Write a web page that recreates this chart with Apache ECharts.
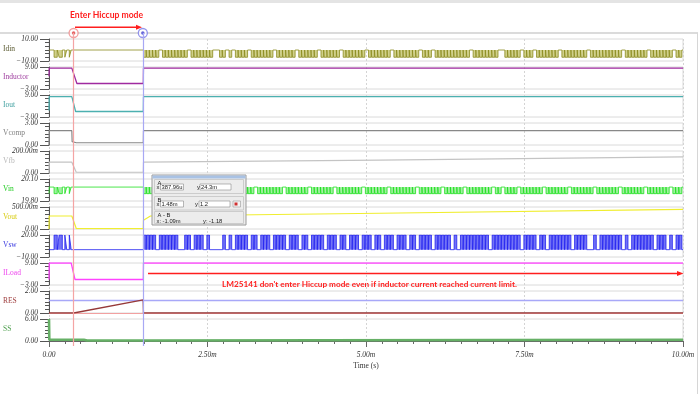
<!DOCTYPE html>
<html><head><meta charset="utf-8">
<script src="https://cdn.jsdelivr.net/npm/echarts@6/dist/echarts.min.js"></script>
<style>html,body{margin:0;padding:0;background:#fff}#c{width:700px;height:394px}</style>
</head><body><div id="c"></div>
<script>
// ---------------- data ----------------
const names = ['Idin','Inductor','Iout','Vcomp','Vfb','Vin','Vout','Vsw','ILoad','RES','SS'];
const yMin = [-10,-3,-3,0,0,19.8,0,-10,-3,0,0];
const yMax = [10,9,9,3,0.2,20.1,0.5,20,9,2,6];
const yTopLabels = ['10.00','9.00','9.00','3.00','200.00m','20.10','500.00m','20.00','9.00','2.00','6.00'];
const yBottomLabels = ['\u221210.00','\u22123.00','\u22123.00','0.00','0.00','19.80','0.00','\u221210.00','\u22123.00','0.00','0.00'];
const xTickLabels = ['0.00','2.50m','5.00m','7.50m','10.00m'];

// time in ms
const inductor = [[0,4],[0.004,8.4],[0.36,8.4],[0.44,0],[1.487,0],[1.49,8.4],[10,8.4]];
const iout     = [[0,0.5],[0.004,8.1],[0.36,8.1],[0.42,0],[1.487,0],[1.49,8.1],[10,8.1]];
const vcomp    = [[0,0],[0.004,1.95],[0.36,1.95],[0.365,0.45],[0.43,0.31],[1.487,0.31],[1.49,1.95],[10,1.95]];
const vfb      = [[0,0],[0.004,0.098],[0.36,0.098],[0.43,0.007],[1.487,0.007],[1.49,0.098],[5.22,0.117],[10,0.146]];
const vout     = [[0,0],[0.004,0.295],[0.36,0.295],[0.43,0.01],[1.487,0.01],[1.49,0.2],[1.6,0.295],[5.22,0.358],[10,0.448]];
const iload    = [[0,0],[0.004,9],[0.35,9],[0.41,0],[1.487,0],[1.49,9],[10,9]];
const res      = [[0,0],[0.39,0],[1.485,1.2],[1.49,0],[10,0]];
const ss       = [[0,6],[0.005,0.35],[0.55,0.35],[0.6,0.12],[1.487,0.12],[1.49,0.35],[10,0.35]];

const cursorA = 0.38796, cursorB = 1.48;
const cursorAy = 0.0243, cursorBy = 1.2;

// switching activity
const earlyPulses = [[0.08,0.13],[0.16,0.21],[0.25,0.28],[0.32,0.35]];
const denseStart = 1.49, denseSlot = 0.05, denseCount = 170, pulseOn = 0.042;
const idinGaps = [5,14,22,23,26,28,33,41,48,55,62,70,78,87,91,103,112,113,119,123,131,140,151,159,167];
const vinGaps  = [6,13,20,27,35,44,52,60,69,77,86,94,101,110,113,118,126,134,142,150,158,166];
const vswGaps  = [4,11,12,15,19,21,22,23,24,26,28,33,36,40,45,49,52,57,61,64,68,72,75,79,83,86,91,97,99,109,119,124,127,135,140,141,143,151,153,161,165,167];
const idinLevels = [0,-6.6];
const vinLevels  = [19.99,19.9,19.9];   // base, dip, start
const vswLevels  = [0,20];

// ---------------- build ----------------
function pulses(gaps){
  const p = earlyPulses.slice();
  for (let k=0;k<denseCount;k++){
    if (gaps.indexOf(k) >= 0) continue;
    const a = denseStart + k*denseSlot;
    p.push([a, a+pulseOn]);
  }
  return p;
}
function train(base, peak, gaps, start){
  const d = [[0, start===undefined?base:start],[0.004, base]];
  pulses(gaps).forEach(([a,b])=>{ d.push([a,base],[a,peak],[b,peak],[b,base]); });
  d.push([10, base]);
  return d;
}
const idin = train(idinLevels[0], idinLevels[1], idinGaps);
const vin  = train(vinLevels[0], vinLevels[1], vinGaps, vinLevels[2]);
const vsw  = train(vswLevels[0], vswLevels[1], vswGaps);

const dataSets = [idin, inductor, iout, vcomp, vfb, vin, vout, vsw, iload, res, ss];
const lineColors = ['#8c8c1e','#a02aa0','#4cb0b0','#888888','#c4c4c4','#1ee01e','#f0ee30','#2222f0','#ff44ff','#963838','#66b066'];
const nameColors = ['#5a5a30','#a040a0','#40a0a0','#808080','#b8b8b8','#22cc22','#d8cc10','#3a3ae0','#ee44ee','#a04040','#50a050'];
const lineWidths = [0.8,1.3,1.3,1.2,1.2,0.8,1.2,0.8,1.3,1.3,2.6];
const areas = {0:{color:'#bcbc5a',opacity:0.7}, 5:{color:'#90ee90',opacity:0.85,origin:vinLevels[0]}, 7:{color:'#5a5af4',opacity:0.85}};

// ---------------- layout ----------------
const L = 49, R = 17, T0 = 39, STEP = 28, H = 22;
const grids=[], xAxes=[], yAxes=[], series=[], graphics=[];
const serif = 'Liberation Serif';

for (let i=0;i<11;i++){
  const top = T0 + STEP*i;
  grids.push({left:L, right:R, top:top, height:H, show:true, borderColor:'#dadada', borderWidth:1, backgroundColor:'transparent'});
  const last = i===10;
  xAxes.push({gridIndex:i, type:'value', min:0, max:10, interval:2.5, show:last,
    axisLine:{show:true, onZero:false, lineStyle:{color:'#666'}},
    axisTick:{show:true, length:6, lineStyle:{color:'#666'}},
    minorTick:{show:true, splitNumber:10, length:3, lineStyle:{color:'#666'}},
    splitLine:{show:false},
    axisLabel:{show:true, margin:10, fontFamily:serif, fontStyle:'italic', fontSize:7.5, color:'#333',
      formatter: v => xTickLabels[Math.round(v/2.5)]},
    name: last ? 'Time (s)' : '', nameLocation:'middle', nameGap:21,
    nameTextStyle:{fontFamily:serif, fontSize:7.5, color:'#333'}});
  const mn=yMin[i], mx=yMax[i];
  const ticks=[]; for(let k=0;k<=6;k++) ticks.push(mn+(mx-mn)*k/6);
  yAxes.push({gridIndex:i, type:'value', min:mn, max:mx, position:'left',
    axisLine:{show:true, lineStyle:{color:'#555'}},
    axisTick:{show:true, length:4, customValues:ticks, lineStyle:{color:'#555'}},
    axisLabel:{show:false}, splitLine:{show:false}});
  yAxes.push({gridIndex:i, type:'value', min:mn, max:mx, position:'left',
    axisLine:{show:false},
    axisTick:{show:true, length:9, customValues:[mn,mx], lineStyle:{color:'#555'}},
    axisLabel:{show:true, customValues:[mn,mx], margin:11, fontFamily:serif, fontStyle:'italic', fontSize:7.5, color:'#333',
      formatter: v => (Math.abs(v-mx) < Math.abs(v-mn)) ? yTopLabels[i] : yBottomLabels[i]},
    splitLine:{show:false}});
  const s = {type:'line', xAxisIndex:i, yAxisIndex:2*i, data:dataSets[i], showSymbol:false, symbol:'none',
    sampling:'none', animation:false, z:3,
    lineStyle:{color:lineColors[i], width:lineWidths[i]}};
  if (areas[i]) s.areaStyle = areas[i];
  if (i===9){
    s.markLine = {silent:true, symbol:'none', animation:false, label:{show:false}, z:2,
      data:[{yAxis:cursorAy, lineStyle:{color:'#f2a0a0', width:1, type:'solid'}},
            {yAxis:cursorBy, lineStyle:{color:'#a8a8f8', width:1.3, type:'solid'}}]};
  }
  series.push(s);
  graphics.push({type:'text', left:3, top:top+10-3.5, style:{text:names[i], fill:nameColors[i], font:'7.5px "Liberation Serif"'}});
}

// background grid for dotted vertical lines
grids.push({left:L, right:R, top:39, height:307, show:false});
xAxes.push({gridIndex:11, type:'value', min:0, max:10, interval:2.5, axisLine:{show:false}, axisTick:{show:false}, axisLabel:{show:false},
  splitLine:{show:true, lineStyle:{color:'#d4d4d4', type:[2,2], width:1}}});
yAxes.push({gridIndex:11, type:'value', min:0, max:1, show:false});
series.push({type:'line', xAxisIndex:11, yAxisIndex:22, data:[], silent:true});

// cursor grid
grids.push({left:L, right:R, top:33, height:313, show:false});
xAxes.push({gridIndex:12, type:'value', min:0, max:10, show:false});
yAxes.push({gridIndex:12, type:'value', min:0, max:1, show:false});
series.push({type:'scatter', xAxisIndex:12, yAxisIndex:23, clip:false, animation:false, z:1, symbol:'circle', symbolSize:9,
  data:[{value:[cursorA,1], itemStyle:{color:'#fff', borderColor:'#f08888', borderWidth:1.3}},
        {value:[cursorB,1], itemStyle:{color:'#fff', borderColor:'#7a7ae8', borderWidth:1.3}}],
  markLine:{silent:true, symbol:'none', animation:false, label:{show:false},
    data:[{xAxis:cursorA, lineStyle:{color:'#f4a4a4', width:1.2, type:'solid'}},
          {xAxis:cursorB, lineStyle:{color:'#a8a8f4', width:1.2, type:'solid'}}]}});
series.push({type:'scatter', xAxisIndex:12, yAxisIndex:23, clip:false, animation:false, z:4, symbol:'circle', symbolSize:3.5,
  data:[{value:[cursorA,1], itemStyle:{color:'#e04040'}},{value:[cursorB,1], itemStyle:{color:'#4040d0'}}]});

// frame decorations
graphics.push({type:'rect', left:0, top:0, shape:{width:700,height:3}, style:{fill:'#e4e4e4'}, z:-1});
graphics.push({type:'line', shape:{x1:0,y1:33,x2:698,y2:33}, style:{stroke:'#cfcfcf', lineWidth:1.5}, z:-1});
graphics.push({type:'line', shape:{x1:697.5,y1:33,x2:697.5,y2:394}, style:{stroke:'#d6d6d6', lineWidth:1}, z:-1});

// annotations
graphics.push({type:'text', left:70, top:10.5, style:{text:'Enter Hiccup mode', fill:'#ff1e1e', font:'bold 8.6px Lato'}});
graphics.push({type:'line', shape:{x1:75,y1:27.3,x2:138,y2:27.3}, style:{stroke:'#ff1e1e', lineWidth:1.5}});
graphics.push({type:'polygon', shape:{points:[[136,24.8],[142,27.3],[136,29.8]]}, style:{fill:'#ff1e1e'}});
graphics.push({type:'line', shape:{x1:148,y1:273.5,x2:679,y2:273.5}, style:{stroke:'#ff1e1e', lineWidth:1.6}});
graphics.push({type:'polygon', shape:{points:[[677,271],[683.5,273.5],[677,276]]}, style:{fill:'#ff1e1e'}});
graphics.push({type:'text', left:222, top:280, style:{text:"LM25141 don't enter Hiccup mode even if inductor current reached current limit.", fill:'#ff1e1e', font:'bold 8.2px Lato'}});

// cursor dialog (absolute coordinates, drawn above everything)
const DX = 152, DY = 175, DZ = 100;
const f = '5.8px "Liberation Sans"';
const t = (x,y,s)=>({type:'text', z:DZ, z2:5, x:DX+x, y:DY+y, style:{text:s, fill:'#222', font:f}});
const r = (x,y,w,h,style,z2)=>({type:'rect', z:DZ, z2:z2, shape:{x:DX+x,y:DY+y,width:w,height:h}, style:style});
const inp = (x,y,w)=>r(x,y,w,6,{fill:'#fff', stroke:'#8a8a8a', lineWidth:0.6},2);
const box = (y,h)=>r(2.5,y,89,h,{fill:'none', stroke:'#c4c4c4', lineWidth:0.8},1);
[
  r(0,0,94,50,{fill:'#ececec', stroke:'#9a9a9a', lineWidth:1},0),
  r(0.5,0.5,93,3,{fill:'#a9c2e4'},1),
  box(4.5,14), t(5.5,5,'A'), t(4.5,9.5,'x'), inp(8.5,9,23), t(9.5,9.5,'387.96u'),
  t(45,9.5,'y'), inp(48,9,31), t(49,9.5,'24.3m'),
  box(21.5,13.5), t(5.5,22.2,'B'), t(4.5,26.5,'x'), inp(8.5,26,23), t(9.5,26.5,'1.48m'),
  t(43,26.5,'y'), inp(47,26,31), t(48,26.5,'1.2'),
  r(81,26,7.5,6,{fill:'#f4f4f4', stroke:'#8a8a8a', lineWidth:0.5},2),
  r(82.5,27.5,3,3,{fill:'#d03030'},3),
  box(36.5,12), t(5.5,37.5,'A - B'), t(4.5,43,'x: -1.09m'), t(51,43,'y: -1.18')
].forEach(e=>graphics.push(e));

const chart = echarts.init(document.getElementById('c'), null, {renderer:'canvas'});
chart.setOption({animation:false, backgroundColor:'#fff', grid:grids, xAxis:xAxes, yAxis:yAxes, series:series, graphic:graphics});
</script></body></html>
